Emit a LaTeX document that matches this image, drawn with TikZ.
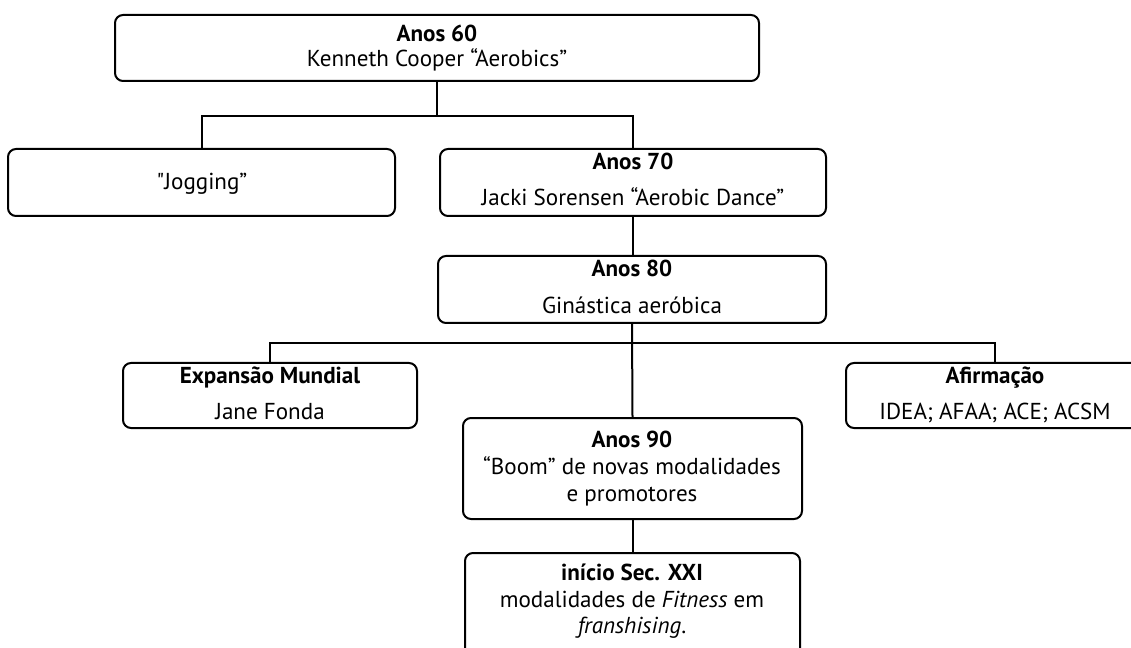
\documentclass[tikz,border=0pt]{standalone}
\usepackage{fontspec}
\setmainfont{PT Sans}
\newfontfamily\plainqfont{PT Sans}
\usetikzlibrary{fit}
\begin{document}
\begin{tikzpicture}[x=0.75pt,y=-0.75pt,
  box/.style={draw,line width=1.5pt,rounded corners=6pt,inner sep=0pt},
  txt/.style={inner sep=0pt,anchor=base,font=\fontsize{17.3}{20}\selectfont},
  conn/.style={line width=1.5pt}]
\useasboundingbox (0,0) rectangle (1131,648);
\clip (0,0) rectangle (1131,648);
% boxes
\node[box,fit={(115,15) (759,81)}] (a60) {};
\node[box,fit={(8,149) (395,216)}] (jog) {};
\node[box,fit={(440,149) (826,216)}] (a70) {};
\node[box,fit={(438,256) (826,323)}] (a80) {};
\node[box,fit={(123,363) (417,428)}] (exp) {};
\node[box,fit={(846,363) (1144,428)}] (afi) {};
\node[box,fit={(463,418) (802,519)}] (a90) {};
\node[box,fit={(465,553) (800,662)}] (xxi) {};
% texts
\node[txt] (t60a) at (437,42) {\textbf{Anos 60}};
\node[txt] (t60b) at (437,67) {Kenneth Cooper “Aerobics”};
\node[txt] (tjog) at (202,190) {{\plainqfont"}Jogging”};
\node[txt] (t70a) at (633,170) {\textbf{Anos 70}};
\node[txt] (t70b) at (633,206) {Jacki Sorensen “Aerobic Dance”};
\node[txt] (t80a) at (632,277) {\textbf{Anos 80}};
\node[txt] (t80b) at (632,314) {Ginástica aeróbica};
\node[txt] (texa) at (270,383) {\textbf{Expansão Mundial}};
\node[txt] (texb) at (270,419) {Jane Fonda};
\node[txt] (tafa) at (995,383) {\textbf{Afirmação}};
\node[txt] (tafb) at (995,419) {IDEA; AFAA; ACE; ACSM};
\node[txt] (t90a) at (632,447) {\textbf{Anos 90}};
\node[txt] (t90b) at (632,474) {“Boom” de novas modalidades};
\node[txt] (t90c) at (632,501) {e promotores};
\node[txt] (txxa) at (632,580) {\textbf{início Sec. XXI}};
\node[txt] (txxb) at (632,607) {modalidades de \textit{Fitness} em};
\node[txt] (txxc) at (632,633) {\textit{franshising}.};
% connectors
\coordinate (h1) at (437,116);
\coordinate (h2) at (632,343);
\draw[conn] (a60.south) -- (h1);
\draw[conn] (jog.north) |- (h1) -| (a70.north);
\draw[conn] (a70.south) -- (a70.south |- a80.north);
\draw[conn] (a80.south) -- (a90.north);
\draw[conn] (exp.north) |- (h2) -| (afi.north);
\draw[conn] (a90.south) -- (xxi.north);
\end{tikzpicture}
\end{document}
